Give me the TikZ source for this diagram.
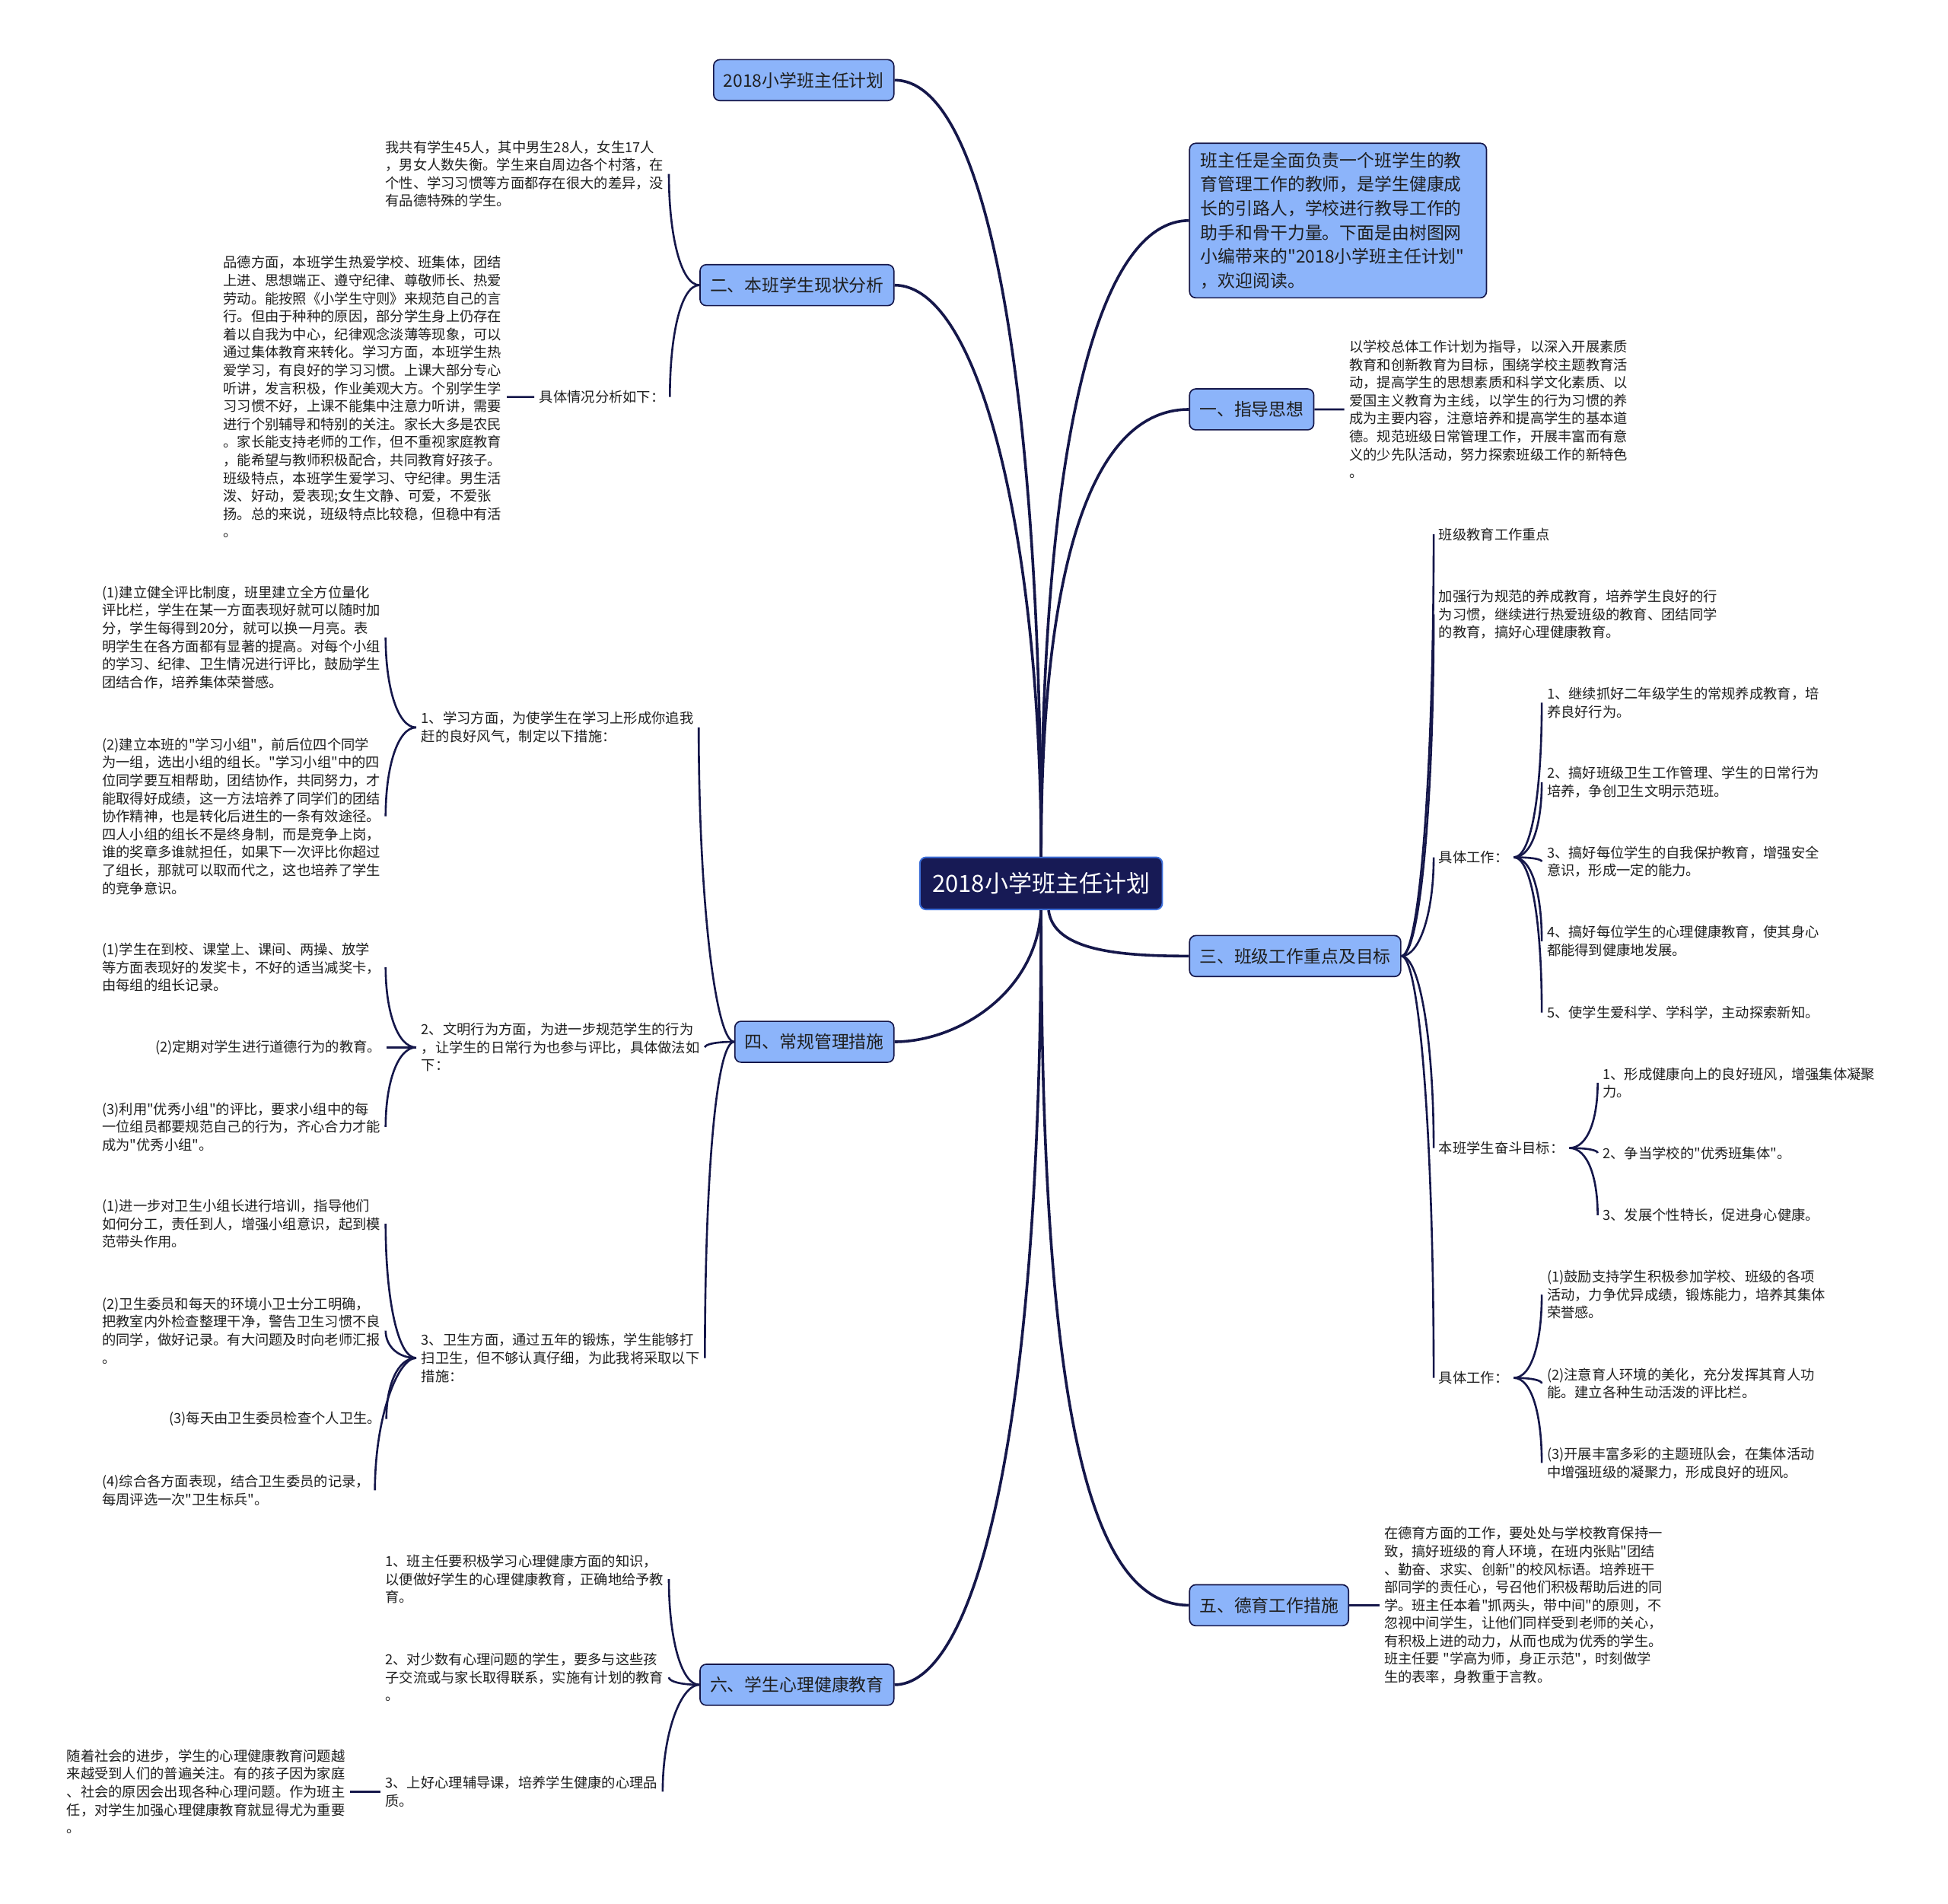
\documentclass[tikz,border=0pt]{standalone}
\usepackage{fontspec}
\setmainfont{Noto Sans CJK SC}[Ligatures=TeXOff]
\usetikzlibrary{positioning,calc}
\definecolor{navy}{HTML}{15174A}
\definecolor{topicblue}{HTML}{8CB4FA}
\definecolor{rootfill}{HTML}{171A55}
\definecolor{rootedge}{HTML}{3C6ED8}
\tikzset{
  root/.style={draw=rootedge, line width=1.2pt, fill=rootfill, text=white, rounded corners=5pt, font=\fontsize{19}{23}\selectfont, inner xsep=10pt, minimum height=42pt},
  topic/.style={draw=navy, line width=1pt, fill=topicblue, rounded corners=5pt, font=\fontsize{14}{17}\selectfont, text=black!88, inner xsep=8pt, minimum height=33pt},
  intro/.style={topic, text width=221pt, align=left, inner xsep=9pt, inner ysep=7pt, font=\fontsize{14}{19.4}\selectfont},
  leaf/.style={font=\fontsize{11.2}{14.45}\selectfont, align=left, inner xsep=4pt, inner ysep=1pt, text=black!88},
  branch/.style={draw=navy, line width=2.2pt},
  twig/.style={draw=navy, line width=1.6pt},
  bl/.style={to path={.. controls ($(\tikztostart)+(-15,0)$) and ($(\tikztotarget)!.55!(\tikztotarget|-\tikztostart)$) .. (\tikztotarget)}},
  br/.style={to path={.. controls ($(\tikztostart)+(15,0)$) and ($(\tikztotarget)!.55!(\tikztotarget|-\tikztostart)$) .. (\tikztotarget)}}
}
\begin{document}
\begin{tikzpicture}[x=1pt,y=-1pt]
    \fill[white] (0,0) rectangle (1568,1532);
    \useasboundingbox (0,0) rectangle (1568,1532);
    \node[root] (root) at (838,711) {2018小学班主任计划};
    \node[topic,anchor=east] (t0) at (720,64.5) {2018小学班主任计划};
    \node[topic,anchor=east] (t2) at (720,229.5) {二、本班学生现状分析};
    \node[topic,anchor=east] (t4) at (720,838.5) {四、常规管理措施};
    \node[topic,anchor=east] (t6) at (720,1356) {六、学生心理健康教育};
    \node[intro,anchor=west] (intro) at (957,177.5) {班主任是全面负责一个班学生的教\\育管理工作的教师，是学生健康成\\长的引路人，学校进行教导工作的\\助手和骨干力量。下面是由树图网\\小编带来的"2018小学班主任计划"\\，欢迎阅读。};
    \node[topic,anchor=west] (t1) at (957,329.5) {一、指导思想};
    \node[topic,anchor=west] (t3) at (957,769.5) {三、班级工作重点及目标};
    \node[topic,anchor=west] (t5) at (957,1292) {五、德育工作措施};

    \node[leaf,anchor=west] (c2a) at (306,140) {我共有学生45人，其中男生28人，女生17人\\，男女人数失衡。学生来自周边各个村落，在\\个性、学习习惯等方面都存在很大的差异，没\\有品德特殊的学生。};
    \node[leaf,anchor=west] (c2b) at (430,319.5) {具体情况分析如下：};
    \node[leaf,left=22pt of c2b] (c2b1) {品德方面，本班学生热爱学校、班集体，团结\\上进、思想端正、遵守纪律、尊敬师长、热爱\\劳动。能按照《小学生守则》来规范自己的言\\行。但由于种种的原因，部分学生身上仍存在\\着以自我为中心，纪律观念淡薄等现象，可以\\通过集体教育来转化。学习方面，本班学生热\\爱学习，有良好的学习习惯。上课大部分专心\\听讲，发言积极，作业美观大方。个别学生学\\习习惯不好，上课不能集中注意力听讲，需要\\进行个别辅导和特别的关注。家长大多是农民\\。家长能支持老师的工作，但不重视家庭教育\\，能希望与教师积极配合，共同教育好孩子。\\班级特点，本班学生爱学习、守纪律。男生活\\泼、好动，爱表现;女生文静、可爱，不爱张\\扬。总的来说，班级特点比较稳，但稳中有活\\。};

    \node[leaf,anchor=west] (c4a) at (335,585.5) {1、学习方面，为使学生在学习上形成你追我\\赶的良好风气，制定以下措施：};
    \node[leaf,anchor=west] (c4a1) at (78,513) {(1)建立健全评比制度，班里建立全方位量化\\评比栏，学生在某一方面表现好就可以随时加\\分，学生每得到20分，就可以换一月亮。表\\明学生在各方面都有显著的提高。对每个小组\\的学习、纪律、卫生情况进行评比，鼓励学生\\团结合作，培养集体荣誉感。};
    \node[leaf,anchor=west] (c4a2) at (78,657) {(2)建立本班的"学习小组"，前后位四个同学\\为一组，选出小组的组长。"学习小组"中的四\\位同学要互相帮助，团结协作，共同努力，才\\能取得好成绩，这一方法培养了同学们的团结\\协作精神，也是转化后进生的一条有效途径。\\四人小组的组长不是终身制，而是竞争上岗，\\谁的奖章多谁就担任，如果下一次评比你超过\\了组长，那就可以取而代之，这也培养了学生\\的竞争意识。};
    \node[leaf,anchor=west] (c4b) at (335,843) {2、文明行为方面，为进一步规范学生的行为\\，让学生的日常行为也参与评比，具体做法如\\下：};
    \node[leaf,anchor=west] (c4b1) at (78,778.5) {(1)学生在到校、课堂上、课间、两操、放学\\等方面表现好的发奖卡，不好的适当减奖卡，\\由每组的组长记录。};
    \node[leaf,anchor=east] (c4b2) at (311,843) {(2)定期对学生进行道德行为的教育。};
    \node[leaf,anchor=west] (c4b3) at (78,907) {(3)利用"优秀小组"的评比，要求小组中的每\\一位组员都要规范自己的行为，齐心合力才能\\成为"优秀小组"。};
    \node[leaf,anchor=west] (c4c) at (335,1093) {3、卫生方面，通过五年的锻炼，学生能够打\\扫卫生，但不够认真仔细，为此我将采取以下\\措施：};
    \node[leaf,anchor=west] (c4c1) at (78,985) {(1)进一步对卫生小组长进行培训，指导他们\\如何分工，责任到人，增强小组意识，起到模\\范带头作用。};
    \node[leaf,anchor=west] (c4c2) at (78,1071) {(2)卫生委员和每天的环境小卫士分工明确，\\把教室内外检查整理干净，警告卫生习惯不良\\的同学，做好记录。有大问题及时向老师汇报\\。};
    \node[leaf,anchor=east] (c4c3) at (311,1142) {(3)每天由卫生委员检查个人卫生。};
    \node[leaf,anchor=west] (c4c4) at (78,1199.5) {(4)综合各方面表现，结合卫生委员的记录，\\每周评选一次"卫生标兵"。};

    \node[leaf,anchor=west] (c6a) at (306,1271) {1、班主任要积极学习心理健康方面的知识，\\以便做好学生的心理健康教育，正确地给予教\\育。};
    \node[leaf,anchor=west] (c6b) at (306,1350) {2、对少数有心理问题的学生，要多与这些孩\\子交流或与家长取得联系，实施有计划的教育\\。};
    \node[leaf,anchor=west] (c6c) at (306,1442) {3、上好心理辅导课，培养学生健康的心理品\\质。};
    \node[leaf,left=24pt of c6c] (c6c1) {随着社会的进步，学生的心理健康教育问题越\\来越受到人们的普遍关注。有的孩子因为家庭\\、社会的原因会出现各种心理问题。作为班主\\任，对学生加强心理健康教育就显得尤为重要\\。};

    \node[leaf,right=24pt of t1] (c1a) {以学校总体工作计划为指导，以深入开展素质\\教育和创新教育为目标，围绕学校主题教育活\\动，提高学生的思想素质和科学文化素质、以\\爱国主义教育为主线，以学生的行为习惯的养\\成为主要内容，注意培养和提高学生的基本道\\德。规范班级日常管理工作，开展丰富而有意\\义的少先队活动，努力探索班级工作的新特色\\。};

    \node[leaf,anchor=west] (c3a) at (1154,430) {班级教育工作重点};
    \node[leaf,anchor=west] (c3b) at (1154,494.5) {加强行为规范的养成教育，培养学生良好的行\\为习惯，继续进行热爱班级的教育、团结同学\\的教育，搞好心理健康教育。};
    \node[leaf,anchor=west] (c3c) at (1154,690) {具体工作：};
    \node[leaf,anchor=west] (c3c1) at (1241,565.5) {1、继续抓好二年级学生的常规养成教育，培\\养良好行为。};
    \node[leaf,anchor=west] (c3c2) at (1241,629.5) {2、搞好班级卫生工作管理、学生的日常行为\\培养，争创卫生文明示范班。};
    \node[leaf,anchor=west] (c3c3) at (1241,693.5) {3、搞好每位学生的自我保护教育，增强安全\\意识，形成一定的能力。};
    \node[leaf,anchor=west] (c3c4) at (1241,757.5) {4、搞好每位学生的心理健康教育，使其身心\\都能得到健康地发展。};
    \node[leaf,anchor=west] (c3c5) at (1241,815) {5、使学生爱科学、学科学，主动探索新知。};
    \node[leaf,anchor=west] (c3d) at (1154,924) {本班学生奋斗目标：};
    \node[leaf,anchor=west] (c3d1) at (1286,871.5) {1、形成健康向上的良好班风，增强集体凝聚\\力。};
    \node[leaf,anchor=west] (c3d2) at (1286,928) {2、争当学校的"优秀班集体"。};
    \node[leaf,anchor=west] (c3d3) at (1286,978) {3、发展个性特长，促进身心健康。};
    \node[leaf,anchor=west] (c3e) at (1154,1109) {具体工作：};
    \node[leaf,anchor=west] (c3e1) at (1241,1042) {(1)鼓励支持学生积极参加学校、班级的各项\\活动，力争优异成绩，锻炼能力，培养其集体\\荣誉感。};
    \node[leaf,anchor=west] (c3e2) at (1241,1113.5) {(2)注意育人环境的美化，充分发挥其育人功\\能。建立各种生动活泼的评比栏。};
    \node[leaf,anchor=west] (c3e3) at (1241,1177.5) {(3)开展丰富多彩的主题班队会，在集体活动\\中增强班级的凝聚力，形成良好的班风。};

    \node[leaf,right=24pt of t5] (c5a) {在德育方面的工作，要处处与学校教育保持一\\致，搞好班级的育人环境，在班内张贴"团结\\、勤奋、求实、创新"的校风标语。培养班干\\部同学的责任心，号召他们积极帮助后进的同\\学。班主任本着"抓两头，带中间"的原则，不\\忽视中间学生，让他们同样受到老师的关心，\\有积极上进的动力，从而也成为优秀的学生。\\班主任要 "学高为师，身正示范"，时刻做学\\生的表率，身教重于言教。};

    \draw[branch] (root.north) .. controls (838,340) and (800,64.5) .. (t0.east);
    \draw[branch] (root.north) .. controls (838,440) and (790,229.5) .. (t2.east);
    \draw[branch] (root.north) .. controls (838,350) and (885,177.5) .. (intro.west);
    \draw[branch] (root.north) .. controls (838,450) and (880,329.5) .. (t1.west);
    \draw[branch] ([xshift=6pt]root.south) .. controls (848,765) and (900,769.5) .. (t3.west);
    \draw[branch] (root.south) .. controls (838,1150) and (880,1292) .. (t5.west);
    \draw[branch] (root.south) .. controls (834,800) and (770,838.5) .. (t4.east);
    \draw[branch] (root.south) .. controls (838,1180) and (780,1356) .. (t6.east);

    \draw[twig] (t2.west) to[bl] (c2a.east);
    \draw[twig] (t2.west) to[bl] (c2b.east);
    \draw[twig] (c2b.west) to[bl] (c2b1.east);
    \foreach \k in {c4a,c4b,c4c} \draw[twig] (t4.west) to[bl] (\k.east);
    \foreach \k in {c4a1,c4a2} \draw[twig] (c4a.west) to[bl] (\k.east);
    \foreach \k in {c4b1,c4b2,c4b3} \draw[twig] (c4b.west) to[bl] (\k.east);
    \foreach \k in {c4c1,c4c2,c4c3,c4c4} \draw[twig] (c4c.west) to[bl] (\k.east);
    \foreach \k in {c6a,c6b,c6c} \draw[twig] (t6.west) to[bl] (\k.east);
    \draw[twig] (c6c.west) to[bl] (c6c1.east);
    \draw[twig] (t1.east) to[br] (c1a.west);
    \draw[twig] (t5.east) to[br] (c5a.west);
    \foreach \k in {c3a,c3b,c3c,c3d,c3e} \draw[twig] (t3.east) to[br] (\k.west);
    \foreach \k in {c3c1,c3c2,c3c3,c3c4,c3c5} \draw[twig] (c3c.east) to[br] (\k.west);
    \foreach \k in {c3d1,c3d2,c3d3} \draw[twig] (c3d.east) to[br] (\k.west);
    \foreach \k in {c3e1,c3e2,c3e3} \draw[twig] (c3e.east) to[br] (\k.west);
\end{tikzpicture}
\end{document}
